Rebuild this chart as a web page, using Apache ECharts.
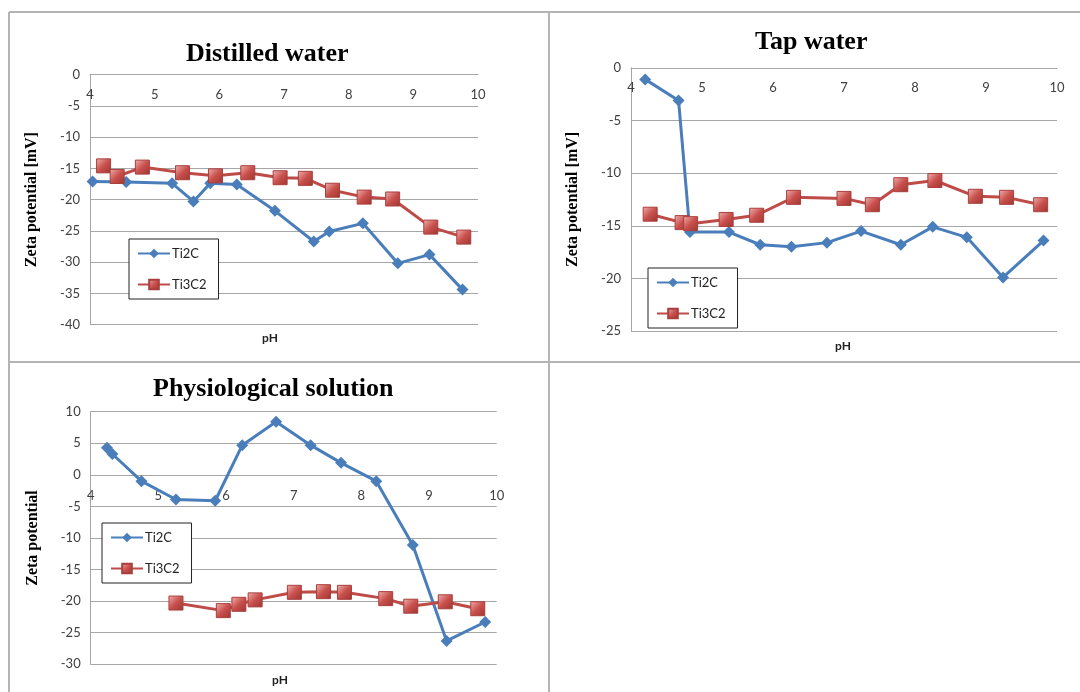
<!DOCTYPE html>
<html>
<head>
<meta charset="utf-8">
<script src="https://cdn.jsdelivr.net/npm/echarts@6/dist/echarts.min.js"></script>
<style>
  html, body { margin: 0; padding: 0; background: #fff; }
  #main { width: 1080px; height: 692px; }
</style>
</head>
<body>
<div id="main"></div>
<script>
// Distilled water
var dwTi2CPh = [4.04, 4.56, 5.27, 5.60, 5.86, 6.27, 6.86, 7.46, 7.70, 8.22, 8.76, 9.25, 9.76]
var dwTi2CZeta = [-17.1, -17.2, -17.4, -20.3, -17.4, -17.6, -21.8, -26.7, -25.1, -23.8, -30.2, -28.8, -34.4]
var dwTi3C2Ph = [4.21, 4.42, 4.81, 5.43, 5.94, 6.44, 6.94, 7.33, 7.75, 8.24, 8.68, 9.27, 9.78]
var dwTi3C2Zeta = [-14.6, -16.3, -14.8, -15.7, -16.2, -15.7, -16.5, -16.6, -18.5, -19.6, -19.9, -24.4, -26.0]

// Tap water
var twTi2CPh = [4.20, 4.67, 4.83, 5.38, 5.82, 6.26, 6.76, 7.24, 7.80, 8.25, 8.73, 9.24, 9.81]
var twTi2CZeta = [-1.1, -3.1, -15.6, -15.6, -16.8, -17.0, -16.6, -15.5, -16.8, -15.1, -16.1, -19.9, -16.4]
var twTi3C2Ph = [4.27, 4.72, 4.84, 5.34, 5.77, 6.29, 7.00, 7.40, 7.80, 8.28, 8.85, 9.29, 9.77]
var twTi3C2Zeta = [-13.9, -14.7, -14.8, -14.4, -14.0, -12.3, -12.4, -13.0, -11.1, -10.7, -12.2, -12.3, -13.0]

// Physiological solution
var psTi2CPh = [4.24, 4.32, 4.75, 5.26, 5.84, 6.24, 6.74, 7.25, 7.70, 8.22, 8.76, 9.26, 9.83]
var psTi2CZeta = [4.3, 3.3, -1.0, -3.9, -4.1, 4.7, 8.4, 4.7, 1.9, -1.0, -11.1, -26.3, -23.3]
var psTi3C2Ph = [5.26, 5.96, 6.19, 6.43, 7.01, 7.44, 7.75, 8.36, 8.73, 9.24, 9.72]
var psTi3C2Zeta = [-20.3, -21.5, -20.5, -19.8, -18.6, -18.5, -18.6, -19.6, -20.8, -20.1, -21.2]

var titles = ['Distilled water', 'Tap water', 'Physiological solution']
var yNames = ['Zeta potential [mV]', 'Zeta potential [mV]', 'Zeta potential']
var yMin = [-40, -25, -30]
var yMax = [0, 0, 10]

function pairs(xs, ys) {
  return xs.map(function (x, i) { return [x, ys[i]] })
}

var gridColor = '#a6a6a6'
var labelFont = 'Lato, "Open Sans", sans-serif'
var serifFont = '"Liberation Serif", "DejaVu Serif", serif'

// 三个面板的位置
var grids = [
  { left: 90, top: 74.6, width: 388, height: 250 },
  { left: 631, top: 67.8, width: 426, height: 263.3 },
  { left: 90.7, top: 411.7, width: 406, height: 252.6 },
]

var redFill = new echarts.graphic.LinearGradient(0, 0, 1, 1, [
  { offset: 0, color: '#f0b4b2' },
  { offset: 0.5, color: '#c9504c' },
  { offset: 1, color: '#9c3532' },
])

function blueSeries(i, data) {
  return {
    name: 'Ti2C', type: 'line', xAxisIndex: i, yAxisIndex: i,
    data: data, symbol: 'diamond', symbolSize: 12,
    lineStyle: { color: '#4a7ebb', width: 3 },
    itemStyle: { color: '#4a7ebb' },
  }
}
function redSeries(i, data) {
  return {
    name: 'Ti3C2', type: 'line', xAxisIndex: i, yAxisIndex: i,
    data: data, symbol: 'rect', symbolSize: 14,
    lineStyle: { color: '#be4b48', width: 3 },
    itemStyle: { color: redFill, borderColor: '#a83f3c', borderWidth: 1 },
  }
}

var option = {
  animation: false,
  backgroundColor: '#fff',
  title: [
    { text: titles[0], left: 186, top: 41 },
    { text: titles[1], left: 755, top: 29 },
    { text: titles[2], left: 153, top: 376 },
  ].map(function (t) {
    t.padding = 0
    t.textStyle = { fontFamily: serifFont, fontWeight: 'bold', fontSize: 26, color: '#000' }
    return t
  }),
  legend: [
    { left: 129, top: 239 },
    { left: 648, top: 268 },
    { left: 102, top: 523 },
  ].map(function (l) {
    l.orient = 'vertical'
    l.data = ['Ti2C', 'Ti3C2']
    l.backgroundColor = '#fff'
    l.borderColor = '#222'
    l.borderWidth = 1
    l.borderRadius = 0
    l.padding = [8, 12, 8, 8]
    l.itemGap = 18
    l.itemWidth = 32
    l.itemHeight = 12
    l.textStyle = { fontFamily: labelFont, fontSize: 13, color: '#222', padding: [0, 0, 0, -3] }
    return l
  }),
  grid: grids,
  // x 轴放在 y=0 处，标签朝下
  xAxis: grids.map(function (g, i) {
    var zeroOffset = -g.height * yMax[i] / (yMax[i] - yMin[i])
    return {
      type: 'value', gridIndex: i, min: 4, max: 10, interval: 1,
      position: 'top', offset: zeroOffset,
      axisLine: { show: true, onZero: false, lineStyle: { color: gridColor, width: 1 } },
      axisTick: { show: false },
      splitLine: { show: false },
      axisLabel: { inside: true, margin: 14, fontFamily: labelFont, fontSize: 13, color: '#404040' },
    }
  }),
  yAxis: grids.map(function (g, i) {
    return {
      type: 'value', gridIndex: i, min: yMin[i], max: yMax[i], interval: 5,
      name: yNames[i], nameLocation: 'middle', nameGap: 50, nameRotate: 90,
      nameTextStyle: { fontFamily: serifFont, fontWeight: 'bold', fontSize: 16, color: '#000' },
      axisLine: { show: true, onZero: false, lineStyle: { color: gridColor, width: 1 } },
      axisTick: { show: false },
      splitLine: { show: true, lineStyle: { color: gridColor, width: 1 } },
      axisLabel: { margin: 10, fontFamily: labelFont, fontSize: 13, color: '#404040' },
    }
  }),
  series: [
    blueSeries(0, pairs(dwTi2CPh, dwTi2CZeta)),
    redSeries(0, pairs(dwTi3C2Ph, dwTi3C2Zeta)),
    blueSeries(1, pairs(twTi2CPh, twTi2CZeta)),
    redSeries(1, pairs(twTi3C2Ph, twTi3C2Zeta)),
    blueSeries(2, pairs(psTi2CPh, psTi2CZeta)),
    redSeries(2, pairs(psTi3C2Ph, psTi3C2Zeta)),
  ],
  graphic: [
    // 表格边框
    { type: 'line', shape: { x1: 9, y1: 12, x2: 1080, y2: 12 }, style: { stroke: '#b4b4b4', lineWidth: 2 } },
    { type: 'line', shape: { x1: 9, y1: 12, x2: 9, y2: 692 }, style: { stroke: '#b4b4b4', lineWidth: 2 } },
    { type: 'line', shape: { x1: 549, y1: 12, x2: 549, y2: 692 }, style: { stroke: '#b4b4b4', lineWidth: 2 } },
    { type: 'line', shape: { x1: 9, y1: 362, x2: 1080, y2: 362 }, style: { stroke: '#b4b4b4', lineWidth: 2 } },
    // pH 轴标题
    { type: 'text', x: 270, y: 338, style: { text: 'pH', align: 'center', verticalAlign: 'middle', font: 'bold 12px ' + labelFont, fill: '#222' } },
    { type: 'text', x: 843, y: 346, style: { text: 'pH', align: 'center', verticalAlign: 'middle', font: 'bold 12px ' + labelFont, fill: '#222' } },
    { type: 'text', x: 280, y: 680, style: { text: 'pH', align: 'center', verticalAlign: 'middle', font: 'bold 12px ' + labelFont, fill: '#222' } },
  ],
}

var myChart = echarts.init(document.getElementById('main'))
myChart.setOption(option, true)
</script>
</body>
</html>
